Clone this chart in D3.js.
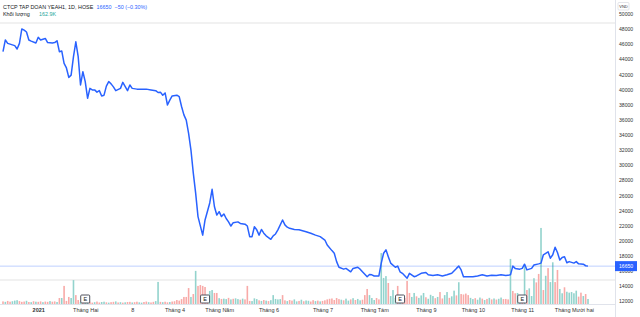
<!DOCTYPE html>
<html>
<head>
<meta charset="utf-8">
<script src="https://cdn.jsdelivr.net/npm/d3@7"></script>
<style>
  body { margin: 0; background: #fff; }
  svg { display: block; font-family: "Liberation Sans", Arial, sans-serif; }
</style>
</head>
<body>
<div id="chart"></div>
<script>
// trading-day index (0 = first bar) and close price of the traced line
const closeBar = [0,1,2,4,5,6,7,8,9,10,11,12,14,15,16,18,19,21,22,23,24,25,26,27,28,29,30,31,32,33,34,35,36,37,38,39,40,41,42,43,44,45,46,47,48,50,51,53,54,55,57,60,61,63,65,66,67,68,69,70,71,72,74,75,76,77,78,79,80,81,82,83,85,86,88,89,90,91,92,93,94,95,96,97,98,100,101,103,104,105,106,107,108,109,110,111,112,114,115,116,117,119,120,121,122,124,126,129,131,133,135,137,138,140,141,142,143,145,146,148,149,151,152,153,155,156,157,158,160,161,162,163,164,165,167,168,169,170,172,173,175,176,178,180,181,183,185,187,189,191,193,194,195,196,198,200,202,204,206,208,210,212,214,216,217,218,220,221,222,223,225,226,228,229,230,231,232,233,234,235,236,237,238,239,240,241,243,244,245,247,248,249]
const closePrice = [45000,46550,46100,45900,45800,45350,46100,48000,47850,47600,46550,46400,46150,46900,46550,46750,46200,46150,46200,46450,45000,45100,43450,42850,41600,41900,44350,46300,44350,40600,42350,41050,38850,40150,39950,39950,39650,39850,39150,39250,40450,41050,40750,40350,39850,40150,40950,39850,40600,40150,40050,40050,40050,39950,39850,39600,39650,39250,39550,37950,38600,39150,39250,39050,37750,36650,35950,34200,32000,28950,26300,23200,20750,22750,25000,26800,24500,23400,23850,23200,23550,22950,22500,21950,22400,22500,22300,22200,21950,20550,20550,21850,21450,20750,21500,21000,20650,20200,20650,20900,21450,22750,22100,21800,21650,21500,21450,21200,21000,20750,20550,20100,19450,18700,18350,17250,16500,16250,16350,15900,16350,16500,16250,15900,15250,15550,15500,15350,15350,17050,18350,18800,17900,17050,16500,16650,15900,15700,15050,15700,15250,15350,15700,15800,15500,15400,15500,15350,15500,15700,16350,16650,16150,15250,15250,15250,15350,15500,15350,15450,15400,15500,15400,15500,16650,16350,16250,16350,16900,16150,16350,16800,16950,17050,18150,18350,18550,17700,18150,19150,18450,17450,17800,17900,17100,17250,17050,17250,16950,16900,16700,16650]

// daily volume in thousand shares, one per bar
const volume = [85,70,100,75,90,110,125,95,70,80,105,65,60,90,75,70,85,60,80,70,95,75,85,65,
  195,195,590,100,230,195,780,290,130,65,70,60,
  55,70,45,60,80,50,65,75,55,45,60,70,85,50,60,45,55,65,70,50,60,75,55,45,65,80,60,50,70,95,
  720,
  70,60,75,55,65,80,90,
  130,110,160,230,230,520,230,325,1080,590,620,590,555,250,425,455,360,360,
  190,165,175,160,200,150,170,185,160,140,175,150,
  590,100,95,185,160,
  120,100,130,110,95,125,
  290,165,150,160,290,
  120,95,130,110,150,85,100,140,90,115,105,80,125,95,110,85,100,120,
  150,170,180,130,195,160,
  140,120,175,110,150,190,130,165,120,140,
  290,490,290,195,130,195,150,1660,850,910,685,260,455,200,590,170,160,195,750,360,
  230,360,250,200,280,360,220,170,300,260,190,230,390,180,
  290,390,200,250,435,280,710,325,310,340,290,200,
  160,190,140,210,175,130,165,200,150,180,145,170,210,160,165,150,
  1470,425,350,360,290,195,1300,455,510,260,840,705,980,2480,455,920,1170,715,1360,715,1110,490,350,545,400,370,390,350,435,240,370,260,325,163]
// u = up day (teal), d = down day (red)
const volDir = [
  "dudduuudddudududdudduddu", "duddduuddudu", "uddudduududdudududdudduudduddu", "u", "duddudd",
  "ddddddudu", "ddddduudd", "uduududuudud", "dduuu", "dududu", "uuuud", "dudduududuuddududd",
  "dddddd", "uduududuud", "dduuudduuuduuududddd", "uuduuuduuududd", "uuduududdddu",
  "uduududududuuddd", "uddu", "udud", "uuud", "dudu", "duud", "duud", "uuuu", "uddu", "du"
].join("")

const yTicks = [50000,48000,46000,44000,42000,40000,38000,36000,34000,32000,30000,28000,26000,24000,22000,20000,18000,16000,14000,12000]
const tickBars = [15,35,55,73,92,113,136,158,180,200,221,243]
const tickLabels = ["2021","Tháng Hai","8","Tháng 4","Tháng Năm","Tháng 6","Tháng 7","Tháng Tám","Tháng 9","Tháng 10","Tháng 11","Tháng Mười hai"]
const earningsBars = [35,86,169,221]
const lastPrice = 16650

const width = 640
const height = 317
const upColor = "#93d3cd"
const downColor = "#f8aaa8"

const svg = d3.select("#chart")
  .append("svg")
    .attr("width", width)
    .attr("height", height)

const x = d3.scaleLinear()
  .domain([0, volume.length - 1])
  .range([3, 588])

const y = d3.scaleLinear()
  .domain([12000, 48000])
  .range([301.3, 29])

const yVol = d3.scaleLinear()
  .domain([0, 3000])
  .range([304, 212])

// thin separators
svg.selectAll("line.sep")
  .data([23, 280])
  .join("line")
    .attr("class", "sep")
    .attr("x1", 0).attr("x2", 615)
    .attr("y1", d => d).attr("y2", d => d)
    .attr("stroke", "#ededed")
    .attr("stroke-width", 1.6)

const barW = Math.max(1, (x(1) - x(0)) * 0.68)

svg.append("g")
  .selectAll("rect")
  .data(volume)
  .join("rect")
    .attr("x", (d, i) => x(i) - barW / 2)
    .attr("y", d => yVol(d))
    .attr("width", barW)
    .attr("height", d => yVol(0) - yVol(d))
    .attr("fill", (d, i) => volDir[i] === "d" ? downColor : upColor)

// last price level
svg.append("line")
  .attr("x1", 0).attr("x2", 615)
  .attr("y1", y(lastPrice)).attr("y2", y(lastPrice))
  .attr("stroke", "#2962ff")
  .attr("stroke-opacity", 0.3)
  .attr("stroke-width", 1)

const line = d3.line()
  .x(d => x(d[0]))
  .y(d => y(d[1]))

svg.append("path")
  .datum(d3.zip(closeBar, closePrice))
  .attr("d", line)
  .attr("fill", "none")
  .attr("stroke", "#2962ff")
  .attr("stroke-width", 1.5)
  .attr("stroke-linejoin", "round")

// earnings markers
const mark = svg.append("g")
  .selectAll("g")
  .data(earningsBars)
  .join("g")
    .attr("transform", d => `translate(${x(d)}, 299)`)

mark.append("rect")
  .attr("x", -4.5).attr("y", -4)
  .attr("width", 9).attr("height", 8)
  .attr("rx", 1)
  .attr("fill", "#fff")
  .attr("stroke", "#50535e")
  .attr("stroke-width", 1)

mark.append("text")
  .text("E")
  .attr("text-anchor", "middle")
  .attr("y", 2)
  .style("font-size", "5.5px")
  .attr("fill", "#131722")

// axes frame
svg.append("line")
  .attr("x1", 615.5).attr("x2", 615.5)
  .attr("y1", 0).attr("y2", height)
  .attr("stroke", "#e0e3eb")

svg.append("line")
  .attr("x1", 0).attr("x2", 615)
  .attr("y1", 304.5).attr("y2", 304.5)
  .attr("stroke", "#e0e3eb")

const yAxis = svg.append("g")
  .attr("transform", "translate(615, 0)")
  .call(d3.axisRight(y).tickValues(yTicks).tickFormat(d3.format("d")).tickSize(0).tickPadding(4))

yAxis.select(".domain").remove()
yAxis.selectAll("text")
  .style("font-family", "Liberation Sans, Arial, sans-serif")
  .style("font-size", "5.1px")
  .attr("fill", "#333")

const xAxis = svg.append("g")
  .attr("transform", "translate(0, 304)")
  .call(d3.axisBottom(x).tickValues(tickBars).tickFormat((d, i) => tickLabels[i]).tickSize(0).tickPadding(4.5))

xAxis.select(".domain").remove()
xAxis.selectAll("text")
  .style("font-family", "Liberation Sans, Arial, sans-serif")
  .style("font-size", "5.5px")
  .style("font-weight", (d, i) => i === 0 ? "bold" : "normal")
  .attr("fill", "#333")

// currency box
svg.append("rect")
  .attr("x", 618).attr("y", 2.5)
  .attr("width", 11).attr("height", 7.5)
  .attr("rx", 1)
  .attr("fill", "#fff")
  .attr("stroke", "#d1d4dc")
  .attr("stroke-width", 0.6)

svg.append("text")
  .text("VND")
  .attr("x", 623.5).attr("y", 8.2)
  .attr("text-anchor", "middle")
  .style("font-size", "4px")
  .attr("fill", "#333")

// last price tag
svg.append("rect")
  .attr("x", 615).attr("y", y(lastPrice) - 5)
  .attr("width", 22).attr("height", 10)
  .attr("fill", "#2962ff")

svg.append("text")
  .text(lastPrice)
  .attr("x", 619).attr("y", y(lastPrice) + 1.8)
  .style("font-size", "5.1px")
  .attr("fill", "#fff")

// legend
const legend = svg.append("g")
  .style("font-size", "5.4px")

legend.append("text")
  .attr("x", 3).attr("y", 8.6)
  .attr("fill", "#131722")
  .text("CTCP TAP DOAN YEAH1, 1D, HOSE")

legend.append("text")
  .attr("x", 96.5).attr("y", 8.6)
  .attr("fill", "#2962ff")
  .text(`${lastPrice}  −50 (−0.30%)`)
  .attr("xml:space", "preserve")

legend.append("text")
  .attr("x", 3).attr("y", 16.2)
  .attr("fill", "#131722")
  .text("Khối lượng")

legend.append("text")
  .attr("x", 39).attr("y", 16.2)
  .attr("fill", "#26a69a")
  .text("162.9K")
</script>
</body>
</html>
